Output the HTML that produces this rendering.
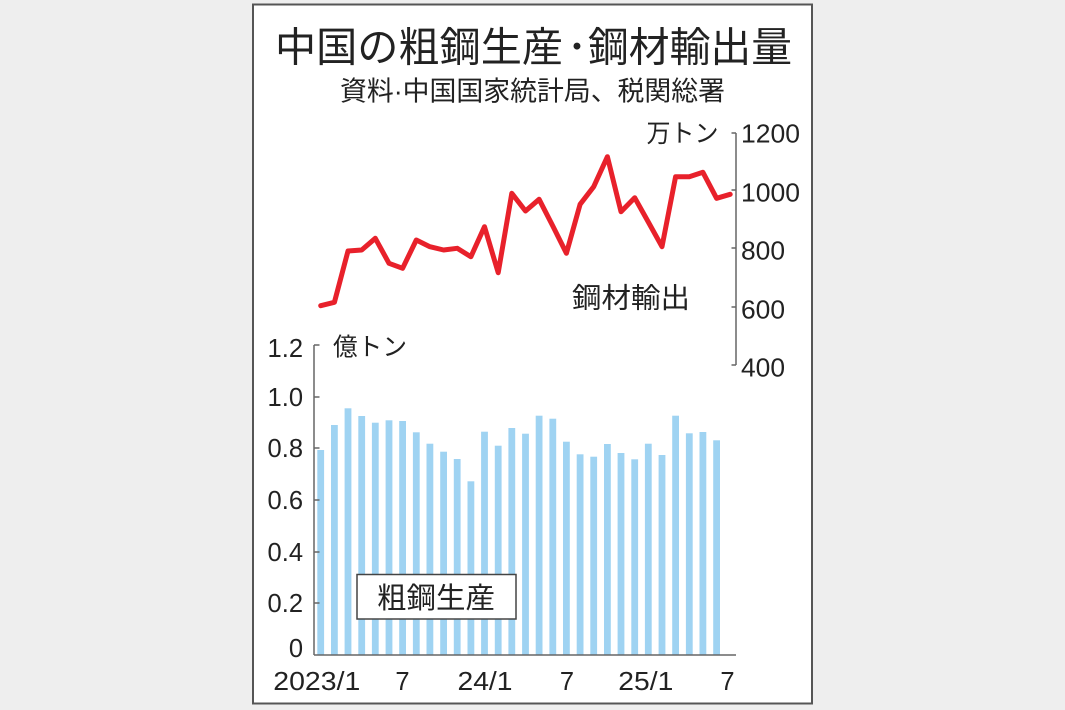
<!DOCTYPE html>
<html>
<head>
<meta charset="utf-8">
<style>
  html, body { margin: 0; padding: 0; background: #eeeeee; }
  body { width: 1065px; height: 710px; overflow: hidden; }
  svg { display: block; }
  .cjk { font-family: "Liberation Sans", "Noto Sans CJK JP", sans-serif; fill: #222; }
  .num { font-family: "Liberation Sans", sans-serif; fill: #222; }
</style>
</head>
<body>
<svg width="1065" height="710" viewBox="0 0 1065 710" xmlns="http://www.w3.org/2000/svg">
  <rect x="0" y="0" width="1065" height="710" fill="#eeeeee"/>
  <rect x="253" y="4.5" width="559" height="699" fill="#ffffff" stroke="#555555" stroke-width="2"/>

  <!-- Title -->
  <text class="cjk" x="275" y="61.5" font-size="41" textLength="288" lengthAdjust="spacingAndGlyphs">中国の粗鋼生産</text>
  <text class="cjk" x="577" y="61.5" font-size="41" text-anchor="middle">･</text>
  <text class="cjk" x="588" y="61.5" font-size="41" textLength="204" lengthAdjust="spacingAndGlyphs">鋼材輸出量</text>
  <!-- Subtitle -->
  <text class="cjk" x="340" y="100.5" font-size="27" textLength="385" lengthAdjust="spacingAndGlyphs">資料·中国国家統計局、税関総署</text>

  <!-- Bars -->
  <g fill="#9fd3f2">
    <rect x="317.3" y="450" width="6.8" height="205"/>
    <rect x="331.0" y="425" width="6.8" height="230"/>
    <rect x="344.6" y="408.3" width="6.8" height="246.7"/>
    <rect x="358.3" y="416" width="6.8" height="239"/>
    <rect x="371.9" y="422.7" width="6.8" height="232.3"/>
    <rect x="385.6" y="420.3" width="6.8" height="234.7"/>
    <rect x="399.2" y="421" width="6.8" height="234"/>
    <rect x="412.9" y="432.3" width="6.8" height="222.7"/>
    <rect x="426.5" y="443.7" width="6.8" height="211.3"/>
    <rect x="440.2" y="451.7" width="6.8" height="203.3"/>
    <rect x="453.8" y="459" width="6.8" height="196"/>
    <rect x="467.5" y="481.3" width="6.8" height="173.7"/>
    <rect x="481.1" y="431.7" width="6.8" height="223.3"/>
    <rect x="494.8" y="445.7" width="6.8" height="209.3"/>
    <rect x="508.4" y="428" width="6.8" height="227"/>
    <rect x="522.1" y="433.7" width="6.8" height="221.3"/>
    <rect x="535.7" y="415.7" width="6.8" height="239.3"/>
    <rect x="549.4" y="418.7" width="6.8" height="236.3"/>
    <rect x="563.0" y="441.7" width="6.8" height="213.3"/>
    <rect x="576.7" y="454.3" width="6.8" height="200.7"/>
    <rect x="590.3" y="456.7" width="6.8" height="198.3"/>
    <rect x="604.0" y="444" width="6.8" height="211"/>
    <rect x="617.6" y="453" width="6.8" height="202"/>
    <rect x="631.3" y="459.3" width="6.8" height="195.7"/>
    <rect x="644.9" y="443.7" width="6.8" height="211.3"/>
    <rect x="658.6" y="455" width="6.8" height="200"/>
    <rect x="672.2" y="415.7" width="6.8" height="239.3"/>
    <rect x="685.9" y="433.3" width="6.8" height="221.7"/>
    <rect x="699.5" y="432" width="6.8" height="223"/>
    <rect x="713.2" y="440.3" width="6.8" height="214.7"/>
  </g>

  <!-- Left axis -->
  <g stroke="#666666" stroke-width="1.5" fill="none">
    <line x1="314" y1="345" x2="314" y2="655"/>
    <line x1="314" y1="655" x2="736" y2="655"/>
    <line x1="314" y1="345" x2="319.5" y2="345"/>
    <line x1="314" y1="397" x2="319.5" y2="397"/>
    <line x1="314" y1="448" x2="319.5" y2="448"/>
    <line x1="314" y1="500" x2="319.5" y2="500"/>
    <line x1="314" y1="552" x2="319.5" y2="552"/>
    <line x1="314" y1="603" x2="319.5" y2="603"/>
  </g>
  <!-- Right axis -->
  <g stroke="#666666" stroke-width="1.5" fill="none">
    <line x1="736" y1="133" x2="736" y2="365"/>
    <line x1="731.5" y1="133" x2="736" y2="133"/>
    <line x1="731.5" y1="190" x2="736" y2="190"/>
    <line x1="731.5" y1="248" x2="736" y2="248"/>
    <line x1="731.5" y1="307" x2="736" y2="307"/>
    <line x1="731.5" y1="365" x2="736" y2="365"/>
  </g>

  <!-- Red line -->
  <polyline fill="none" stroke="#e8212b" stroke-width="5" stroke-linejoin="round" stroke-linecap="round"
    points="320.7,305.7 334.4,302.3 348,251 361.7,250 375.3,238.3 389,263.3 402.6,268.3 416.3,240 429.9,246.7 443.6,250 457.2,248.3 470.9,256.7 484.5,226.7 498.2,272.7 511.8,193.3 525.5,211 539.1,199.3 552.8,226 566.4,253.3 580.1,204.3 593.7,186.7 607.4,156.7 621,211.7 634.7,197.7 648.3,222 662,246.7 675.6,176.7 689.3,176.7 702.9,172.3 716.6,198.3 730.2,194.3"/>

  <!-- Right tick labels -->
  <g class="num" font-size="26">
    <text x="741" y="142.3" textLength="59" lengthAdjust="spacingAndGlyphs">1200</text>
    <text x="741" y="201.3" textLength="59" lengthAdjust="spacingAndGlyphs">1000</text>
    <text x="741" y="259.3" textLength="44" lengthAdjust="spacingAndGlyphs">800</text>
    <text x="741" y="318.3" textLength="44" lengthAdjust="spacingAndGlyphs">600</text>
    <text x="741" y="376.3" textLength="44" lengthAdjust="spacingAndGlyphs">400</text>
  </g>

  <!-- Left tick labels -->
  <g class="num" font-size="25.5" text-anchor="end">
    <text x="303" y="356.8">1.2</text>
    <text x="303" y="406.1">1.0</text>
    <text x="303" y="457.1">0.8</text>
    <text x="303" y="509.1">0.6</text>
    <text x="303" y="560.8">0.4</text>
    <text x="303" y="612.1">0.2</text>
    <text x="303" y="657.1">0</text>
  </g>

  <!-- X labels -->
  <g class="num" font-size="25.5">
    <text x="273.3" y="690" textLength="87" lengthAdjust="spacingAndGlyphs">2023/1</text>
    <text x="402.5" y="690" text-anchor="middle">7</text>
    <text x="457.5" y="690" textLength="55" lengthAdjust="spacingAndGlyphs">24/1</text>
    <text x="567" y="690" text-anchor="middle">7</text>
    <text x="618.3" y="690" textLength="55" lengthAdjust="spacingAndGlyphs">25/1</text>
    <text x="727.5" y="690" text-anchor="middle">7</text>
  </g>

  <!-- Unit labels -->
  <text class="cjk" x="646.5" y="142" font-size="25" textLength="72" lengthAdjust="spacingAndGlyphs">万トン</text>
  <text class="cjk" x="333" y="355.3" font-size="25" textLength="74" lengthAdjust="spacingAndGlyphs">億トン</text>

  <!-- Series label -->
  <text class="cjk" x="572" y="307.5" font-size="28" textLength="118" lengthAdjust="spacingAndGlyphs">鋼材輸出</text>

  <!-- Legend box -->
  <rect x="357" y="574.5" width="159" height="44.5" fill="#ffffff" stroke="#444444" stroke-width="1.5"/>
  <text class="cjk" x="377" y="608" font-size="29" textLength="118" lengthAdjust="spacingAndGlyphs">粗鋼生産</text>
</svg>
</body>
</html>
